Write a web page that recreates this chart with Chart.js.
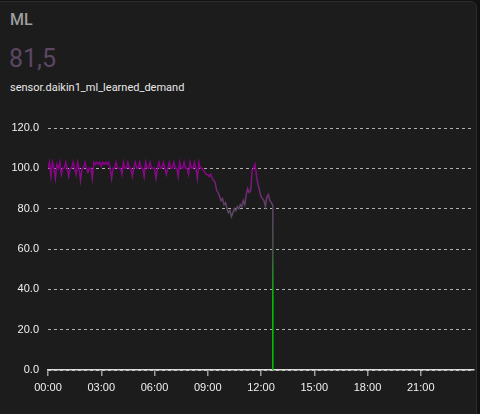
<!DOCTYPE html>
<html>
<head>
<meta charset="utf-8">
<script src="https://cdn.jsdelivr.net/npm/chart.js@4/dist/chart.umd.min.js"></script>
<style>
  html, body { margin: 0; padding: 0; background: #111; width: 480px; height: 414px; overflow: hidden; }
  #card { position: absolute; left: -10px; top: 1px; right: 3px; bottom: -10px; background: #1c1c1c; border: 1px solid #2c2c2c; border-radius: 6px; }
  #title { position: absolute; left: 10px; top: 10px; font: 500 16px Roboto, sans-serif; color: #9e9e9e; }
  #value { position: absolute; left: 9px; top: 44px; font: 400 25px Roboto, sans-serif; color: #5b4763; }
  #entity { position: absolute; left: 10px; top: 81px; font: 400 11px Roboto, sans-serif; color: #e8e8e8; }
  #wrap { position: absolute; left: 0; top: 110px; width: 480px; height: 304px; }
</style>
</head>
<body>
<div id="card"></div>
<div id="title">ML</div>
<div id="value">81,5</div>
<div id="entity">sensor.daikin1_ml_learned_demand</div>
<div id="wrap"><canvas id="c" width="480" height="304"></canvas></div>
<script>
// 5-minute samples starting at 00:00
const startMinute = 0;
const stepMinutes = 5;
const demand = [
  // 00:00
  100,103,96,103,100,95,102,100,103,97,100,100,
  // 01:00
  103,100,96,100,100,103,100,97,103,100,94,100,
  // 02:00
  100,103,100,98,100,100,95,103,102,103,102,103,
  // 03:00
  101,103,102,103,102,103,100,95,100,100,103,100,
  // 04:00
  100,100,97,103,100,100,103,100,100,96,100,103,
  // 05:00
  100,100,103,100,100,96,103,100,100,103,100,100,
  // 06:00
  100,95,100,103,100,100,103,100,97,100,103,100,
  // 07:00
  100,103,100,100,96,103,100,100,103,100,100,97,
  // 08:00
  103,100,100,103,100,95,103,100,100,99,98,97,
  // 09:00
  97,96,97,95,94,93,89,88,86,84,85,82,
  // 10:00
  83,80,78,79,76,78,80,79,81,80,82,81,
  // 11:00
  84,82,87,90,88,89,99,100,102,96,92,89,
  // 12:00
  86,85,84,81,86,87,84,83,81.5
];
// sensor dropped to 0 right after the last sample
const dropValue = 0;

const yTicks = [0, 20, 40, 60, 80, 100, 120];
const xTickHours = [0, 3, 6, 9, 12, 15, 18, 21];

const points = demand.map((v, i) => ({ x: startMinute + i * stepMinutes, y: v }));
points.push({ x: points[points.length - 1].x, y: dropValue });

function fmt(m) {
  const h = Math.floor(m / 60), mm = m % 60;
  return String(h).padStart(2, '0') + ':' + String(mm).padStart(2, '0');
}

function lineGradient(context) {
  const chart = context.chart;
  const { ctx, chartArea, scales } = chart;
  if (!chartArea) return '#8b008b';
  const y0 = scales.y.getPixelForValue(0);
  const y1 = scales.y.getPixelForValue(120);
  const g = ctx.createLinearGradient(0, y0, 0, y1);
  g.addColorStop(0, '#00c800');
  g.addColorStop(35 / 120, '#00c800');
  g.addColorStop(60 / 120, '#505050');
  g.addColorStop(80 / 120, '#5c4862');
  g.addColorStop(100 / 120, '#8b008b');
  g.addColorStop(1, '#8b008b');
  return g;
}

new Chart(document.getElementById('c'), {
  type: 'line',
  data: {
    datasets: [{
      data: points,
      borderColor: lineGradient,
      borderWidth: 1.5,
      pointRadius: 0,
      tension: 0,
      fill: false
    }]
  },
  options: {
    responsive: false,
    animation: false,
    parsing: true,
    layout: { padding: { top: 18, right: 6, left: 0, bottom: 0 } },
    plugins: { legend: { display: false }, tooltip: { enabled: false } },
    scales: {
      x: {
        type: 'linear',
        min: 0,
        max: 1440,
        afterBuildTicks: (scale) => {
          scale.ticks = xTickHours.map(h => ({ value: h * 60 }));
        },
        afterFit: (scale) => { scale.height = 44; },
        ticks: {
          callback: (v) => fmt(v),
          color: '#f0f0f0',
          font: { family: 'Liberation Sans', size: 11 },
          maxRotation: 0,
          autoSkip: false,
          padding: 5
        },
        grid: { drawOnChartArea: false, drawTicks: true, tickLength: 6, color: '#9a9a9a', lineWidth: 1.5 },
        border: { display: true, color: '#dcdcdc', width: 1.5 }
      },
      y: {
        min: 0,
        max: 120,
        afterBuildTicks: (scale) => {
          scale.ticks = yTicks.map(v => ({ value: v }));
        },
        afterFit: (scale) => { scale.width = 48; },
        ticks: {
          callback: (v) => v.toFixed(1),
          color: '#f0f0f0',
          font: { family: 'Liberation Sans', size: 11 },
          padding: 9
        },
        grid: { drawTicks: false, color: '#b0b0b0', lineWidth: 1 },
        border: { display: false, dash: [3, 3] }
      }
    }
  }
});
</script>
</body>
</html>
